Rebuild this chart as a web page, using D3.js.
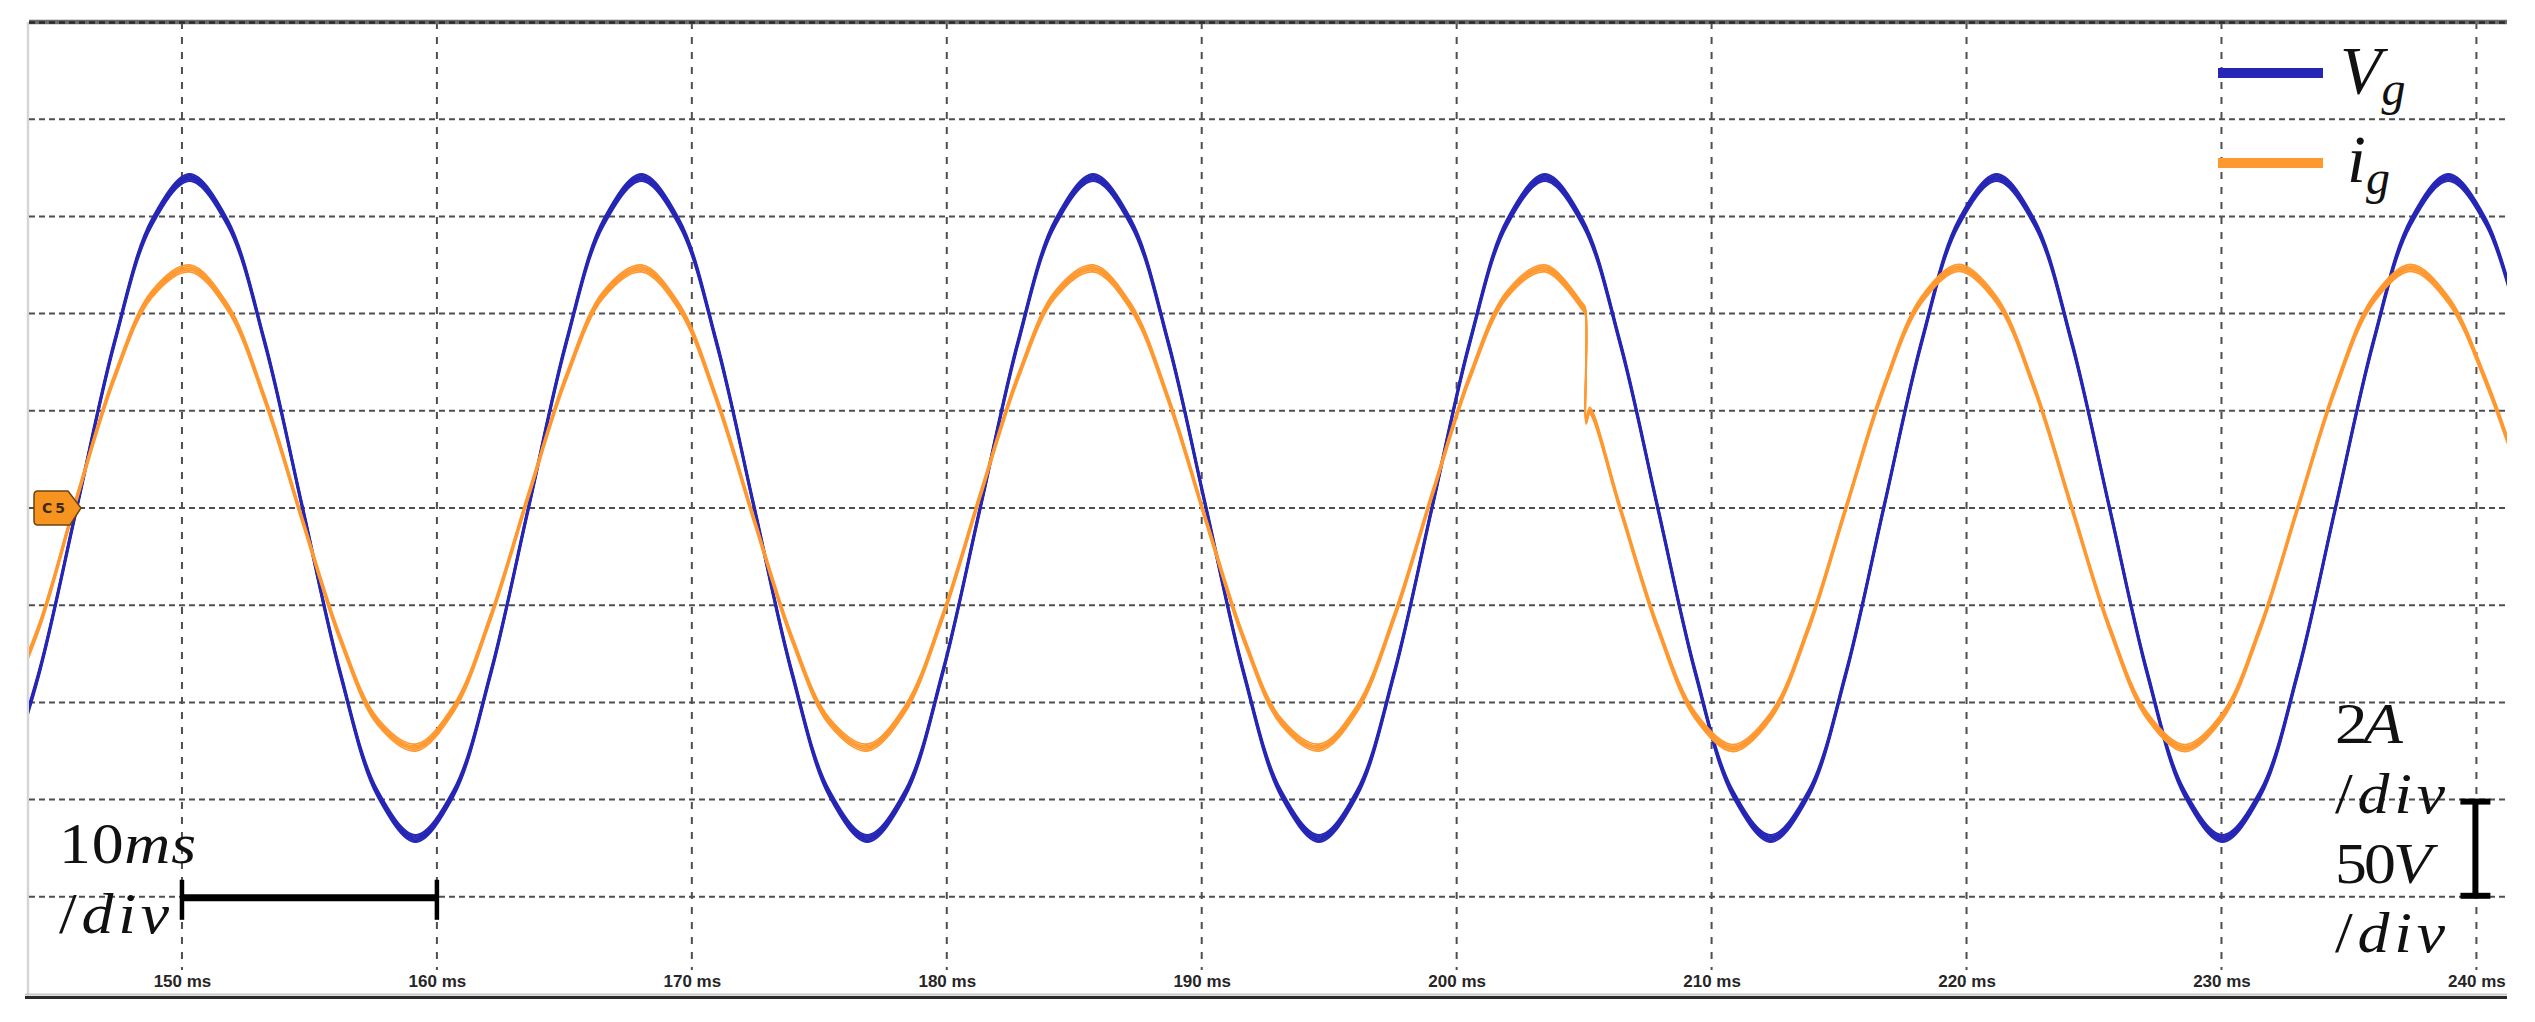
<!DOCTYPE html>
<html><head><meta charset="utf-8">
<script src="https://cdn.jsdelivr.net/npm/d3@7"></script>
<style>html,body{margin:0;padding:0;background:#fff;overflow:hidden}</style>
</head><body>
<svg id="chart" width="2535" height="1022"></svg>
<script>
// ---------- data read from the oscilloscope capture ----------
const xTicksMs = [150,160,170,180,190,200,210,220,230,240];
const yGridDivs = [-4,-3,-2,-1,0,1,2,3,4];

// grid voltage samples (time in ms, value in V; 50 V/div)
const timeMs = [142.92,144.39,145.87,147.35,148.82,150.30,151.78,153.25,154.73,156.21,157.68,159.16,160.64,162.11,163.59,165.07,166.54,168.02,169.50,170.97,172.45,173.93,175.40,176.88,178.36,179.83,181.31,182.79,184.26,185.74,187.22,188.69,190.17,191.65,193.12,194.60,196.08,197.55,199.03,200.51,201.98,203.46,204.94,206.41,207.89,209.37,210.84,212.32,213.80,215.27,216.75,218.23,219.70,221.18,222.66,224.13,225.61,227.09,228.56,230.04,231.52,232.99,234.47,235.95,237.42,238.90,240.38,241.85];
const vgVolts = [-147,-85,0,85,147,
  170,147,85,0,-85,-147,-170,-147,-85,0,85,147,
  170,147,85,0,-85,-147,-170,-147,-85,0,85,147,
  170,147,85,0,-85,-147,-170,-147,-85,0,85,147,
  170,147,85,0,-85,-147,-170,-147,-85,0,85,147,
  170,147,85,0,-85,-147,-170,-147,-85,0,85,147,
  170,147,85];

// grid current samples (time in ms, value in A; 2 A/div) with the step at ~205 ms
const igTimeMs = [142.92,144.39,145.87,147.35,148.82,150.30,151.78,153.25,154.73,156.21,157.68,159.16,160.64,162.11,163.59,165.07,166.54,168.02,169.50,170.97,172.45,173.93,175.40,176.88,178.36,179.83,181.31,182.79,184.26,185.74,187.22,188.69,190.17,191.65,193.12,194.60,196.08,197.55,199.03,200.51,201.98,203.46,204.94,
  205.05,205.08,205.22,
  206.41,207.89,209.37,210.84,212.32,213.80,215.27,216.75,218.23,219.70,221.18,222.66,224.13,225.61,227.09,228.56,230.04,231.52,232.99,234.47,235.95,237.42,238.90,240.38,241.85];
const igAmps = [-4.30,-2.45,0.20,2.69,4.40,
  4.93,4.14,2.24,-0.26,-2.69,-4.40,-4.93,-4.14,-2.24,0.26,2.69,4.40,
  4.93,4.14,2.24,-0.26,-2.69,-4.40,-4.93,-4.14,-2.24,0.26,2.69,4.40,
  4.93,4.14,2.24,-0.26,-2.69,-4.40,-4.93,-4.14,-2.24,0.26,2.69,4.40,
  4.93,4.14,
  4.05,1.80,2.00,
  0,-2.47,-4.28,-4.94,-4.28,-2.47,0,2.47,4.28,4.94,4.28,2.47,0,-2.47,-4.28,-4.94,-4.28,-2.47,0,2.47,4.28,4.94,4.28,2.60,0.40];

const seriesNames = ["V","i"];
const seriesSubs = ["g","g"];
const seriesColors = ["#2626b6","#ff982f"];

// ---------- drawing ----------
const svg = d3.select("#chart");
const plot = {left:29, right:2507, top:22, bottom:994};
const x = d3.scaleLinear().domain([144.0, 241.2]).range([plot.left, plot.right]);
const yV = d3.scaleLinear().domain([-250, 250]).range([plot.bottom, plot.top]);
const yI = d3.scaleLinear().domain([-10, 10]).range([plot.bottom, plot.top]);
const yDiv = d3.scaleLinear().domain([-5, 5]).range([plot.bottom, plot.top]);

svg.append("rect").attr("width",2535).attr("height",1022).attr("fill","#fff");

svg.append("defs").append("clipPath").attr("id","clip")
  .append("rect").attr("x",plot.left).attr("y",plot.top)
  .attr("width",plot.right-plot.left).attr("height",plot.bottom-plot.top);

// left border (light) and bottom border
svg.append("line").attr("x1",plot.left-1).attr("x2",plot.left-1).attr("y1",plot.top).attr("y2",997)
  .attr("stroke","#d6d6d6").attr("stroke-width",2.5);
svg.append("line").attr("x1",plot.left-4).attr("x2",plot.right).attr("y1",994.5).attr("y2",994.5)
  .attr("stroke","#c8c8c8").attr("stroke-width",2);
svg.append("line").attr("x1",plot.left-4).attr("x2",plot.right).attr("y1",997.5).attr("y2",997.5)
  .attr("stroke","#2b2b2b").attr("stroke-width",3);

// horizontal grid
svg.append("g").selectAll("line").data(yGridDivs).join("line")
  .attr("x1",plot.left).attr("x2",plot.right)
  .attr("y1",d=>yDiv(d)).attr("y2",d=>yDiv(d))
  .attr("stroke","#4f4f4f").attr("stroke-width",2).attr("stroke-dasharray","6,4");
// vertical grid
svg.append("g").selectAll("line").data(xTicksMs).join("line")
  .attr("x1",d=>x(d)).attr("x2",d=>x(d))
  .attr("y1",plot.top).attr("y2",970)
  .attr("stroke","#4f4f4f").attr("stroke-width",2).attr("stroke-dasharray","7,8");

// top border
svg.append("line").attr("x1",plot.left).attr("x2",plot.right).attr("y1",yDiv(5)).attr("y2",yDiv(5))
  .attr("stroke","#6b6b6b").attr("stroke-width",4.5);
svg.append("line").attr("x1",plot.left).attr("x2",plot.right).attr("y1",yDiv(5)+0.5).attr("y2",yDiv(5)+0.5)
  .attr("stroke","#2a2a2a").attr("stroke-width",2.5).attr("stroke-dasharray","6,4");

// x axis labels
const ax = svg.append("g").attr("transform","translate(0,975)")
  .call(d3.axisBottom(x).tickValues(xTicksMs).tickFormat(d=>d+" ms").tickSize(0).tickPadding(0));
ax.select(".domain").remove();
ax.selectAll("text").attr("font-family","'Liberation Sans', Arial, sans-serif")
  .attr("font-size",17).attr("font-weight","bold").attr("fill","#262626");

// traces (a narrow vertical band imitates the scope's noise fuzz)
const traces = svg.append("g").attr("clip-path","url(#clip)");
const vData = timeMs.map((t,i)=>[t,vgVolts[i]]);
const iData = igTimeMs.map((t,i)=>[t,igAmps[i]]);
const vLine = d3.line().x(d=>x(d[0])).y(d=>yV(d[1])).curve(d3.curveCatmullRom.alpha(0.5));
const iLine = d3.line().x(d=>x(d[0])).y(d=>yI(d[1])).curve(d3.curveCatmullRom.alpha(0.5));
const fuzz = [-3.5,-1.75,0,1.75,3.5];
fuzz.forEach(o=>{
  traces.append("path").datum(vData).attr("d",vLine).attr("transform",`translate(0,${o})`)
    .attr("fill","none").attr("stroke",seriesColors[0]).attr("stroke-width",o===0?2.4:1.8)
    .attr("stroke-linejoin","round");
});
fuzz.forEach(o=>{
  traces.append("path").datum(iData).attr("d",iLine).attr("transform",`translate(0,${o})`)
    .attr("fill","none").attr("stroke",seriesColors[1]).attr("stroke-width",o===0?2.2:1.6)
    .attr("stroke-linejoin","round");
});

// C5 channel marker
const cy = yV(0);
svg.append("path")
  .attr("d",`M38,${cy-17} L68,${cy-17} L81,${cy} L70,${cy+17} L38,${cy+17} Q34,${cy+17} 34,${cy+13} L34,${cy-13} Q34,${cy-17} 38,${cy-17} Z`)
  .attr("fill","#f7941f").attr("stroke","#6a4414").attr("stroke-width",1.5);
svg.append("text").attr("x",55).attr("y",cy+5).attr("text-anchor","middle")
  .attr("font-family","'DejaVu Sans', sans-serif").attr("font-size",14).attr("font-weight","bold")
  .attr("letter-spacing",3).attr("fill","#3a2a14").text("C5");

// legend
const legY = [73,163];
const legBase = [93,182];
const serif = "'Liberation Serif', 'Times New Roman', serif";
seriesNames.forEach((n,i)=>{
  svg.append("line").attr("x1",2218).attr("x2",2323).attr("y1",legY[i]).attr("y2",legY[i])
    .attr("stroke",seriesColors[i]).attr("stroke-width",10);
  const t = svg.append("text").attr("x",i===0?2340:2347).attr("y",legBase[i])
    .attr("font-family",serif).attr("font-style","italic").attr("font-size",68).attr("fill","#111");
  t.append("tspan").text(n);
  t.append("tspan").attr("dx",0).attr("dy",12).attr("font-size",48).text(seriesSubs[i]);
});

// scale annotations (wide math-style glyphs)
function mathText(xp, yp, parts, len, size){
  const s = 1.12;
  const t = svg.append("text").attr("transform",`translate(${xp},${yp}) scale(${s},1)`)
    .attr("font-family",serif).attr("font-size",size).attr("fill","#111")
    .attr("textLength",len/s).attr("lengthAdjust","spacing");
  parts.forEach(p=>t.append("tspan").attr("font-style",p[1]?"italic":"normal").text(p[0]));
}
mathText(59, 863, [["10",false],["ms",true]], 137, 57);
mathText(59, 933, [["/",false],["div",true]], 110, 57);
mathText(2335, 743, [["2",false],["A",true]], 68, 58);
mathText(2335, 813, [["/",false],["div",true]], 110, 57);
mathText(2335, 883, [["50",false],["V",true]], 97, 57);
mathText(2335, 952, [["/",false],["div",true]], 110, 57);

// 10 ms/div bar
const barY = yDiv(-4)+1;
svg.append("line").attr("x1",x(150)).attr("x2",x(160)).attr("y1",barY).attr("y2",barY)
  .attr("stroke","#000").attr("stroke-width",7);
[150,160].forEach(t=>svg.append("line").attr("x1",x(t)).attr("x2",x(t)).attr("y1",barY-18).attr("y2",barY+22)
  .attr("stroke","#000").attr("stroke-width",4.5));
// 1 div vertical bar
const vx = x(240)-1;
svg.append("line").attr("x1",vx).attr("x2",vx).attr("y1",yDiv(-3)).attr("y2",yDiv(-4)+1)
  .attr("stroke","#000").attr("stroke-width",6);
[yDiv(-3)+2, yDiv(-4)-1].forEach(yy=>svg.append("line").attr("x1",vx-15).attr("x2",vx+15).attr("y1",yy).attr("y2",yy)
  .attr("stroke","#000").attr("stroke-width",6));
</script>
</body></html>
